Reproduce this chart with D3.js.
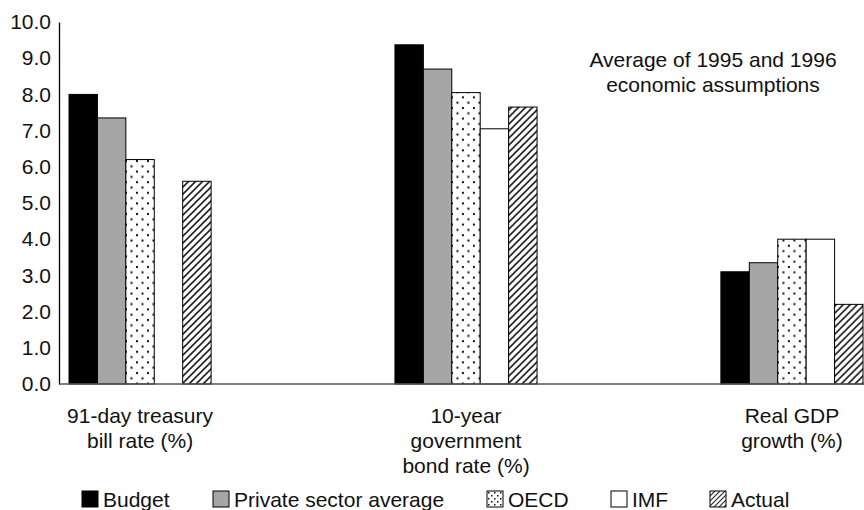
<!DOCTYPE html>
<html>
<head>
<meta charset="utf-8">
<script src="https://cdn.jsdelivr.net/npm/d3@7"></script>
<style>
  html, body { margin: 0; padding: 0; background: #fff; }
  svg { display: block; }
  text { font-family: "Liberation Sans", Arial, Helvetica, sans-serif; fill: #111; }
</style>
</head>
<body>
<svg id="chart" width="864" height="510"></svg>
<script>
// Economic assumptions: average of 1995 and 1996
const categories = [
  ["91-day treasury", "bill rate (%)"],
  ["10-year", "government", "bond rate (%)"],
  ["Real GDP", "growth (%)"]
];
const seriesNames = ["Budget", "Private sector average", "OECD", "IMF", "Actual"];
const budget  = [8.0, 9.37, 3.1];
const privateAvg = [7.35, 8.7, 3.35];
const oecd    = [6.2, 8.05, 4.0];
const imf     = [null, 7.05, 4.0];
const actual  = [5.6, 7.65, 2.2];
const yTicks = [0, 1, 2, 3, 4, 5, 6, 7, 8, 9, 10];
const noteLines = ["Average of 1995 and 1996", "economic assumptions"];

const seriesValues = [budget, privateAvg, oecd, imf, actual];
const seriesFill = ["#000", "#a6a6a6", "url(#dots)", "#fff", "url(#hatch)"];
const legendFill = ["#000", "#a6a6a6", "url(#dotsSmall)", "#fff", "url(#hatchSmall)"];

const svg = d3.select("#chart");
const defs = svg.append("defs");

// dotted fill
const dots = defs.append("pattern").attr("id", "dots")
  .attr("patternUnits", "userSpaceOnUse").attr("width", 11).attr("height", 10.6);
dots.append("rect").attr("width", 11).attr("height", 10.6).attr("fill", "#fff");
dots.append("rect").attr("x", 1).attr("y", 1).attr("width", 2).attr("height", 2).attr("fill", "#111");
dots.append("rect").attr("x", 6.5).attr("y", 6.3).attr("width", 2).attr("height", 2).attr("fill", "#111");

const dotsSmall = defs.append("pattern").attr("id", "dotsSmall")
  .attr("patternUnits", "userSpaceOnUse").attr("width", 6).attr("height", 6);
dotsSmall.append("rect").attr("width", 6).attr("height", 6).attr("fill", "#fff");
dotsSmall.append("rect").attr("x", 1).attr("y", 1).attr("width", 1.5).attr("height", 1.5).attr("fill", "#111");
dotsSmall.append("rect").attr("x", 4).attr("y", 4).attr("width", 1.5).attr("height", 1.5).attr("fill", "#111");

// diagonal hatch fill
function hatchPattern(id, size, width) {
  const p = defs.append("pattern").attr("id", id)
    .attr("patternUnits", "userSpaceOnUse").attr("width", size).attr("height", size);
  p.append("rect").attr("width", size).attr("height", size).attr("fill", "#fff");
  p.append("path")
    .attr("d", `M-1,${size + 1} L${size + 1},-1 M-1,1 L1,-1 M${size - 1},${size + 1} L${size + 1},${size - 1}`)
    .attr("stroke", "#222").attr("stroke-width", width);
}
hatchPattern("hatch", 7, 1.6);
hatchPattern("hatchSmall", 5, 1.1);

// scales
const x0 = d3.scaleBand().domain(d3.range(categories.length))
  .range([69, 863]).paddingInner(0.564).paddingOuter(0);
const x1 = d3.scaleBand().domain(d3.range(seriesNames.length))
  .range([0, x0.bandwidth()]);
const y = d3.scaleLinear().domain([0, 10]).range([384, 22]);

// bars
const groups = svg.append("g").selectAll("g")
  .data(categories.map((c, i) => i))
  .join("g")
  .attr("transform", i => `translate(${x0(i)},0)`);

groups.selectAll("rect")
  .data(i => seriesValues.map((vals, s) => ({ s, v: vals[i] })).filter(d => d.v != null))
  .join("rect")
  .attr("x", d => x1(d.s))
  .attr("y", d => y(d.v))
  .attr("width", x1.bandwidth())
  .attr("height", d => y(0) - y(d.v))
  .attr("fill", d => seriesFill[d.s])
  .attr("stroke", "#000")
  .attr("stroke-width", 1);

// y axis
const yAxis = d3.axisLeft(y).tickValues(yTicks).tickSize(0).tickPadding(8)
  .tickFormat(d3.format(".1f"));
const ya = svg.append("g").attr("transform", "translate(59,0)").call(yAxis);
ya.select(".domain").attr("stroke", "#000").attr("stroke-width", 1.3);
ya.selectAll("text").style("font-size", "21px")
  .style("font-family", "'Liberation Sans', Arial, sans-serif").attr("fill", "#111");

// baseline
svg.append("line")
  .attr("x1", 59).attr("x2", 864)
  .attr("y1", y(0)).attr("y2", y(0))
  .attr("stroke", "#555").attr("stroke-width", 1.5);

// category labels
const catLabels = svg.append("g").selectAll("text")
  .data(categories)
  .join("text")
  .attr("text-anchor", "middle")
  .style("font-size", "21px")
  .attr("transform", (c, i) => `translate(${x0(i) + x0.bandwidth() / 2},423)`);
catLabels.selectAll("tspan")
  .data(c => c)
  .join("tspan")
  .attr("x", 0)
  .attr("y", (d, k) => k * 25)
  .text(d => d);

// note
svg.append("g").selectAll("text")
  .data(noteLines)
  .join("text")
  .attr("x", 713)
  .attr("y", (d, k) => 67 + k * 25)
  .attr("text-anchor", "middle")
  .style("font-size", "21px")
  .text(d => d);

// legend
const legendX = [82, 213, 487, 611, 710];
const legend = svg.append("g").selectAll("g")
  .data(seriesNames)
  .join("g")
  .attr("transform", (d, i) => `translate(${legendX[i]},491)`);
legend.append("rect")
  .attr("width", 16).attr("height", 16)
  .attr("fill", (d, i) => legendFill[i])
  .attr("stroke", "#000").attr("stroke-width", 1);
legend.append("text")
  .attr("x", 21).attr("y", 15.5)
  .style("font-size", "21px")
  .text(d => d);
</script>
</body>
</html>
